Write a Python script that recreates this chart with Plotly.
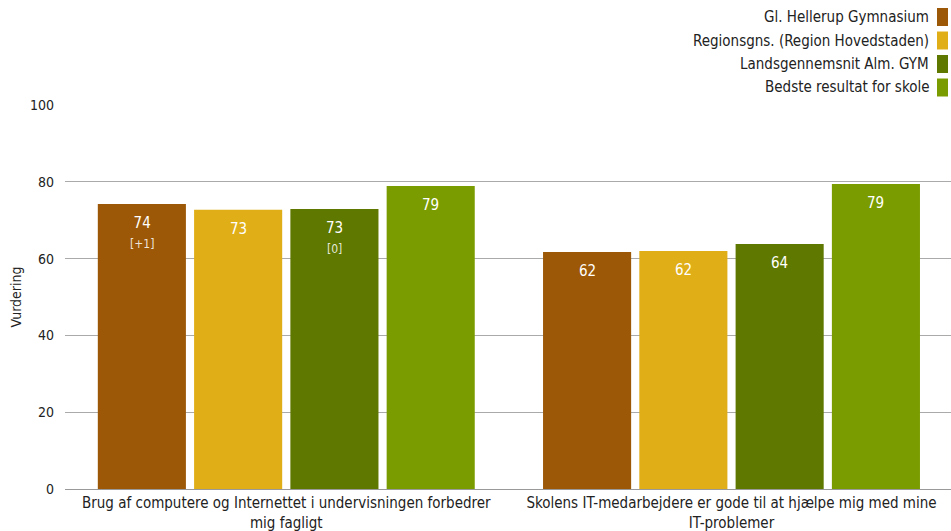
import plotly.graph_objects as go

categories = [
    "Brug af computere og Internettet i undervisningen forbedrer<br>mig fagligt",
    "Skolens IT-medarbejdere er gode til at hjælpe mig med mine<br>IT-problemer",
]
series_names = [
    "Gl. Hellerup Gymnasium",
    "Regionsgns. (Region Hovedstaden)",
    "Landsgennemsnit Alm. GYM",
    "Bedste resultat for skole",
]
values = [
    [74.2, 61.7],
    [72.7, 62.0],
    [72.9, 63.8],
    [78.9, 79.4],
]
labels = [
    ["74", "62"],
    ["73", "62"],
    ["73", "64"],
    ["79", "79"],
]
sublabels = [
    ["[+1]", ""],
    ["", ""],
    ["[0]", ""],
    ["", ""],
]
colors = ["#9C5806", "#E0AE16", "#5F7800", "#7A9C00"]

FONT = "DejaVu Sans Condensed"

W, H = 951, 531
ml, mr, mt, mb = 65, 0, 105, 42
pw, ph = W - ml - mr, H - mt - mb

fig = go.Figure()
for name, vals, col in zip(series_names, values, colors):
    fig.add_trace(go.Bar(x=[0, 1], y=vals, name=name, marker_color=col,
                         marker_line_width=0, showlegend=False, hoverinfo="skip"))

bargap = 0.135
groupgap = 0.085
slot = (1 - bargap) / len(series_names)
annotations = []
for i, (labs, subs, vals) in enumerate(zip(labels, sublabels, values)):
    off = -(1 - bargap) / 2 + slot * (i + 0.5)
    for j in range(len(categories)):
        txt = labs[j]
        if subs[j]:
            txt += "<br><span style='font-size:12px;color:rgba(255,255,255,0.85)'>" + subs[j] + "</span>"
        annotations.append(dict(x=j + off, y=vals[j], xref="x", yref="y", text=txt,
                                showarrow=False, yanchor="top", yshift=-8,
                                font=dict(family=FONT, size=15, color="white")))

# legend: text right-aligned, swatch to the right
shapes = []
for k, (name, col) in enumerate(zip(series_names, colors)):
    ypx = 17 + k * 23.5
    yc = (H - mb - ypx) / ph
    annotations.append(dict(x=(931 - ml) / pw, y=yc, xref="paper", yref="paper", text=name,
                            showarrow=False, xanchor="right", yanchor="middle",
                            font=dict(family=FONT, size=15, color="#222")))
    shapes.append(dict(type="rect", xref="paper", yref="paper",
                       x0=(937 - ml) / pw, x1=(948 - ml) / pw,
                       y0=(H - mb - (ypx + 9)) / ph, y1=(H - mb - (ypx - 9)) / ph,
                       fillcolor=col, line_width=0))

fig.update_layout(
    annotations=annotations,
    shapes=shapes,
    barmode="group",
    bargap=bargap,
    bargroupgap=groupgap,
    width=W, height=H,
    margin=dict(l=ml, r=mr, t=mt, b=mb, autoexpand=False),
    plot_bgcolor="white",
    paper_bgcolor="white",
    font=dict(family=FONT, size=15, color="#222"),
    xaxis=dict(tickmode="array", tickvals=[0, 1], ticktext=categories,
               range=[-0.497, 1.493], showgrid=False, showline=True, linecolor="#999",
               linewidth=1, ticks="", tickfont=dict(size=15)),
    yaxis=dict(range=[0, 100], tickvals=[0, 20, 40, 60, 80, 100], showgrid=True,
               gridcolor="#aaa", gridwidth=1, zeroline=False, ticks="",
               ticklabelstandoff=10,
               title=dict(text="Vurdering", standoff=5, font=dict(size=14)),
               tickfont=dict(size=14)),
    showlegend=False,
)

fig.write_html("out.html", config={"displayModeBar": False},
               post_script="document.body.style.margin='0';document.body.style.overflow='hidden';")
